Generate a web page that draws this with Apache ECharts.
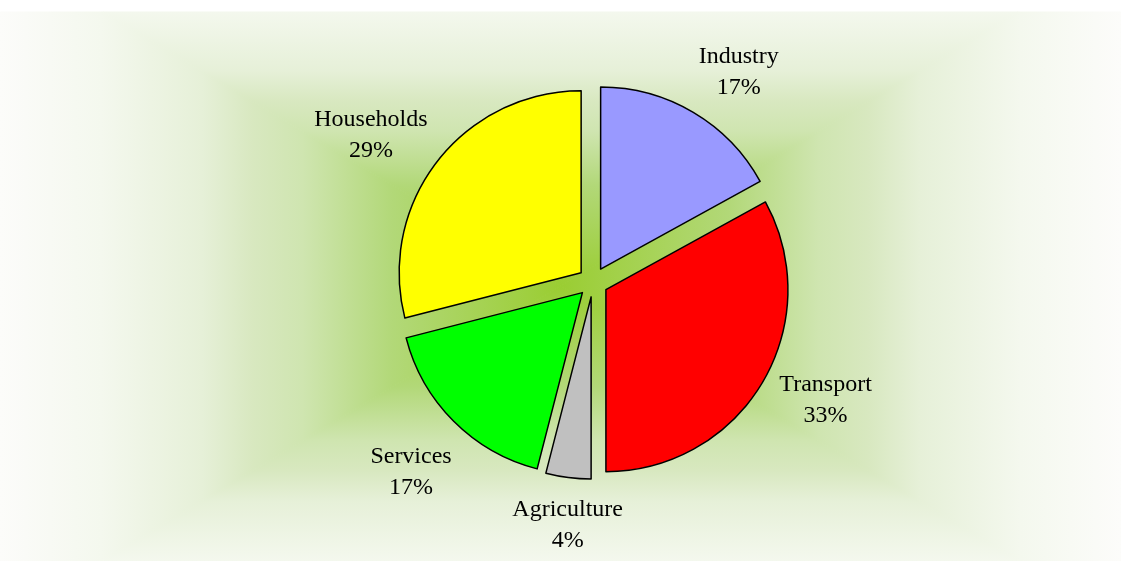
<!DOCTYPE html>
<html>
<head>
<meta charset="utf-8">
<style>
  html, body { margin: 0; padding: 0; background: #ffffff; }
  #chart { width: 1121px; height: 561px; }
</style>
<script src="https://cdn.jsdelivr.net/npm/echarts@6/dist/echarts.min.js"></script>
</head>
<body>
<div id="chart"></div>
<script>
// Energy consumption by sector
const sectors = ['Industry', 'Transport', 'Agriculture', 'Services', 'Households'];
const shares = [17, 33, 4, 17, 29];
const sectorColors = ['#9999FF', '#FF0000', '#C0C0C0', '#00FF00', '#FFFF00'];
// distance of each label from its slice, plus a small nudge
const labelReach = [50, 50, 45, 66, 55];
const labelNudgeX = [15, 15, 10, 9, -18];
const labelNudgeY = [3, -8, 3, 4, 8];

const W = 1121, H = 561;
const visTop = 12;                 // visible top of the shaded area
const gTop = -50, gBottom = 622;   // full extent of the shading rectangle
const cx = W / 2, cy = (gTop + gBottom) / 2;

// rectangular "from centre" fill: light at the edges, yellow-green in the middle
const stops = [
  { offset: 0, color: '#fcfcfa' },
  { offset: 0.18, color: '#f4f8ee' },
  { offset: 0.36, color: '#e6f0d8' },
  { offset: 0.45, color: '#d8e8c0' },
  { offset: 0.54, color: '#cfe5b0' },
  { offset: 0.70, color: '#b2d878' },
  { offset: 1, color: '#9acd32' }
];
function grad(x, y, x2, y2) {
  return { type: 'linear', global: true, x: x, y: y, x2: x2, y2: y2, colorStops: stops };
}
// where each corner-to-centre seam crosses the visible top and bottom
const seamTop = (visTop - gTop) / (cy - gTop) * cx;
const seamBot = (gBottom - H) / (gBottom - cy) * cx;
const bgPieces = [
  { pts: [[seamTop, visTop], [W - seamTop, visTop], [cx, cy]], fill: grad(0, gTop, 0, cy) },
  { pts: [[seamBot, H], [W - seamBot, H], [cx, cy]], fill: grad(0, gBottom, 0, cy) },
  { pts: [[0, visTop], [seamTop, visTop], [cx, cy], [seamBot, H], [0, H]], fill: grad(0, 0, cx, 0) },
  { pts: [[W, visTop], [W - seamTop, visTop], [cx, cy], [W - seamBot, H], [W, H]], fill: grad(W, 0, cx, 0) }
].map(p => ({
  type: 'polygon',
  silent: true,
  shape: { points: p.pts },
  style: { fill: p.fill, stroke: p.fill, lineWidth: 1 }
}));

const chart = echarts.init(document.getElementById('chart'), null, { renderer: 'canvas' });

chart.setOption({
  animation: false,
  backgroundColor: '#ffffff',
  graphic: { elements: [{ type: 'group', z: -10, children: bgPieces }] },
  series: [{
    type: 'pie',
    center: [593, 282],
    radius: 182,
    startAngle: 90,
    clockwise: true,
    avoidLabelOverlap: false,
    selectedMode: 'multiple',
    selectedOffset: 15,
    itemStyle: { borderColor: '#000000', borderWidth: 1.5 },
    select: { itemStyle: { borderColor: '#000000', borderWidth: 1.5 } },
    emphasis: { disabled: true },
    label: {
      show: true,
      position: 'outside',
      formatter: '{b}\n{c}%',
      fontFamily: '"Liberation Serif", "Times New Roman", serif',
      fontSize: 24,
      lineHeight: 31,
      color: '#000000'
    },
    labelLine: { show: false, length2: 0 },
    labelLayout: function (params) {
      const i = params.dataIndex;
      return { align: 'center', dx: labelNudgeX[i], dy: labelNudgeY[i] };
    },
    data: sectors.map((name, i) => ({
      name: name,
      value: shares[i],
      selected: true,
      itemStyle: { color: sectorColors[i] },
      labelLine: { show: false, length: labelReach[i], length2: 0 }
    }))
  }]
});
</script>
</body>
</html>
